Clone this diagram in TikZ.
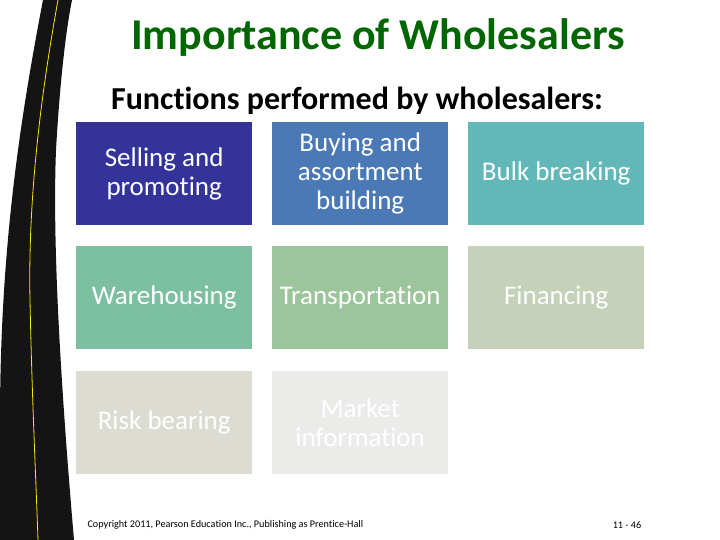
\documentclass[tikz,border=0pt]{standalone}
\usepackage{fontspec}
\setmainfont{Carlito}[Ligatures={NoCommon}]
\begin{document}
\begin{tikzpicture}[x=1pt,y=-1pt,
 cell/.style={minimum width=176pt,minimum height=103pt,inner sep=2pt,text=white,align=center,font=\fontsize{27}{29}\selectfont,anchor=north west}]
\useasboundingbox (0,0) rectangle (720,540);
\fill[white] (0,0) rectangle (720,540);
% road
\fill[black!92] (43,0) .. controls (20,120) and (0,250) .. (0,420) -- (0,540) -- (74,540) .. controls (62,400) and (52,250) .. (56,150) .. controls (60,80) and (66,30) .. (72,0) -- cycle;
\draw[yellow!90!orange,line width=0.8pt] (58,0) .. controls (40,100) and (28,200) .. (30,300) .. controls (32,400) and (36,480) .. (38,540);
\node[font=\bfseries\fontsize{44}{48}\selectfont,text={rgb,255:red,0;green,102;blue,0}] (t) at (378,38) {Importance of Wholesalers};
\node[font=\bfseries\fontsize{32}{36}\selectfont] (s) at (357,101) {Functions performed by wholesalers:};
\definecolor{c1}{HTML}{333399}\definecolor{c2}{HTML}{4A79B5}\definecolor{c3}{HTML}{62B8B9}
\definecolor{c4}{HTML}{7CBFA1}\definecolor{c5}{HTML}{9DC59C}\definecolor{c6}{HTML}{C6D1B9}
\definecolor{c7}{HTML}{DCDCD3}\definecolor{c8}{HTML}{EBEBE9}
\node[cell,fill=c1] (a) at (76,122) {Selling and\\promoting};
\node[cell,fill=c2] (b) at (272,122) {Buying and\\assortment\\building};
\node[cell,fill=c3] (c) at (468,122) {Bulk breaking};
\node[cell,fill=c4] (d) at (76,246) {Warehousing};
\node[cell,fill=c5] (e) at (272,246) {Transportation};
\node[cell,fill=c6] (f) at (468,246) {Financing};
\node[cell,fill=c7] (g) at (76,371) {Risk bearing};
\node[cell,fill=c8] (h) at (272,371) {Market\\information};
\node[font=\fontsize{10.2}{11}\selectfont,anchor=west] (cp) at (84,525) {Copyright 2011, Pearson Education Inc., Publishing as Prentice-Hall};
\node[font=\fontsize{10.2}{11}\selectfont] (pg) at (627,525) {11 - 46};
\end{tikzpicture}
\end{document}
